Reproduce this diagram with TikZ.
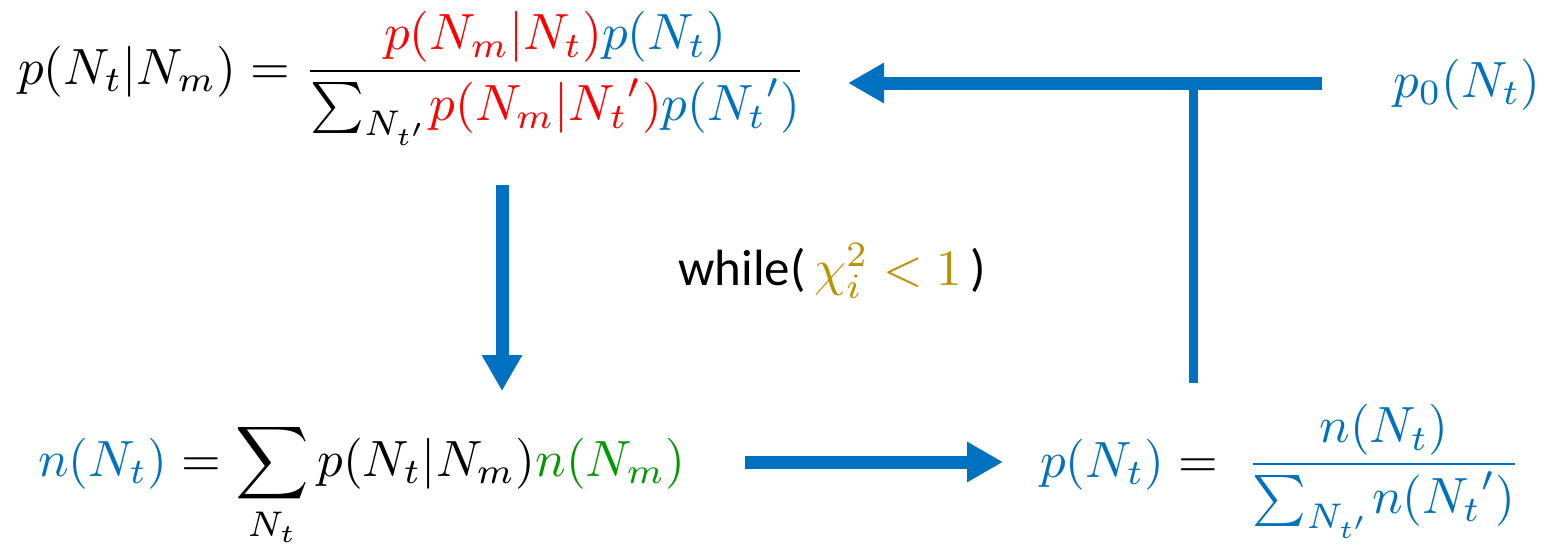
\documentclass[tikz,border=0pt]{standalone}
\usepackage{amsmath}
\usepackage{fontspec}
\newfontfamily\calib{Carlito}
\usetikzlibrary{arrows.meta}
\definecolor{cblue}{RGB}{0,112,192}
\definecolor{cred}{RGB}{255,0,0}
\definecolor{cgreen}{RGB}{0,153,0}
\definecolor{cgold}{RGB}{191,144,0}
\newcommand{\eqbig}[1]{\scalebox{2.9}{#1}}
\begin{document}
\begin{tikzpicture}[x=0.2mm,y=-0.2mm,
  eq/.style={inner sep=0pt},
  arr/.style={draw=cblue, line width=2.6mm, -{Triangle[length=7.2mm,width=7.6mm]}},
  bar/.style={draw=cblue, line width=1.8mm}]
\useasboundingbox (0,0) rectangle (1550,550);
\node[eq, anchor=base west] (post) at (18,84)
  {\eqbig{$p(N_t|N_m)=\dfrac{\color{cred}p(N_m|N_t)\color{cblue}p(N_t)}{\sum_{N_{t'}}\!\color{cred}p(N_m|{N_t}')\color{cblue}p({N_t}')}$}};
\node[eq, anchor=base west] (p0) at (1393,97) {\eqbig{$\color{cblue}p_0(N_t)$}};
\node[eq, anchor=base west] (nt) at (38,476)
  {\eqbig{$\color{cblue}n(N_t)\color{black}=\displaystyle\sum_{N_t}p(N_t|N_m)\color{cgreen}n(N_m)$}};
\node[eq, anchor=base west] (pn) at (1040,477)
  {\eqbig{$\color{cblue}p(N_t)\color{black}=\;\color{cblue}\dfrac{n(N_t)}{\sum_{N_{t'}}\!n({N_t}')}$}};
\node[eq, anchor=base west] (wh) at (678,285)
  {\eqbig{{\calib while(}$\,\color{cgold}\chi_i^2<1\,${\calib )}}};
\coordinate (a1) at (1322,83);
\coordinate (a2) at (848,83);
\coordinate (j) at (1193,83);
\coordinate (jb) at (1193,383);
\coordinate (d1) at (502,185);
\coordinate (d2) at (502,391);
\coordinate (r1) at (745,462);
\coordinate (r2) at (1003,462);
\draw[arr] (a1) -- (a2);
\draw[bar] (j) -- (jb);
\draw[arr] (d1) -- (d2);
\draw[arr] (r1) -- (r2);
\end{tikzpicture}
\end{document}
